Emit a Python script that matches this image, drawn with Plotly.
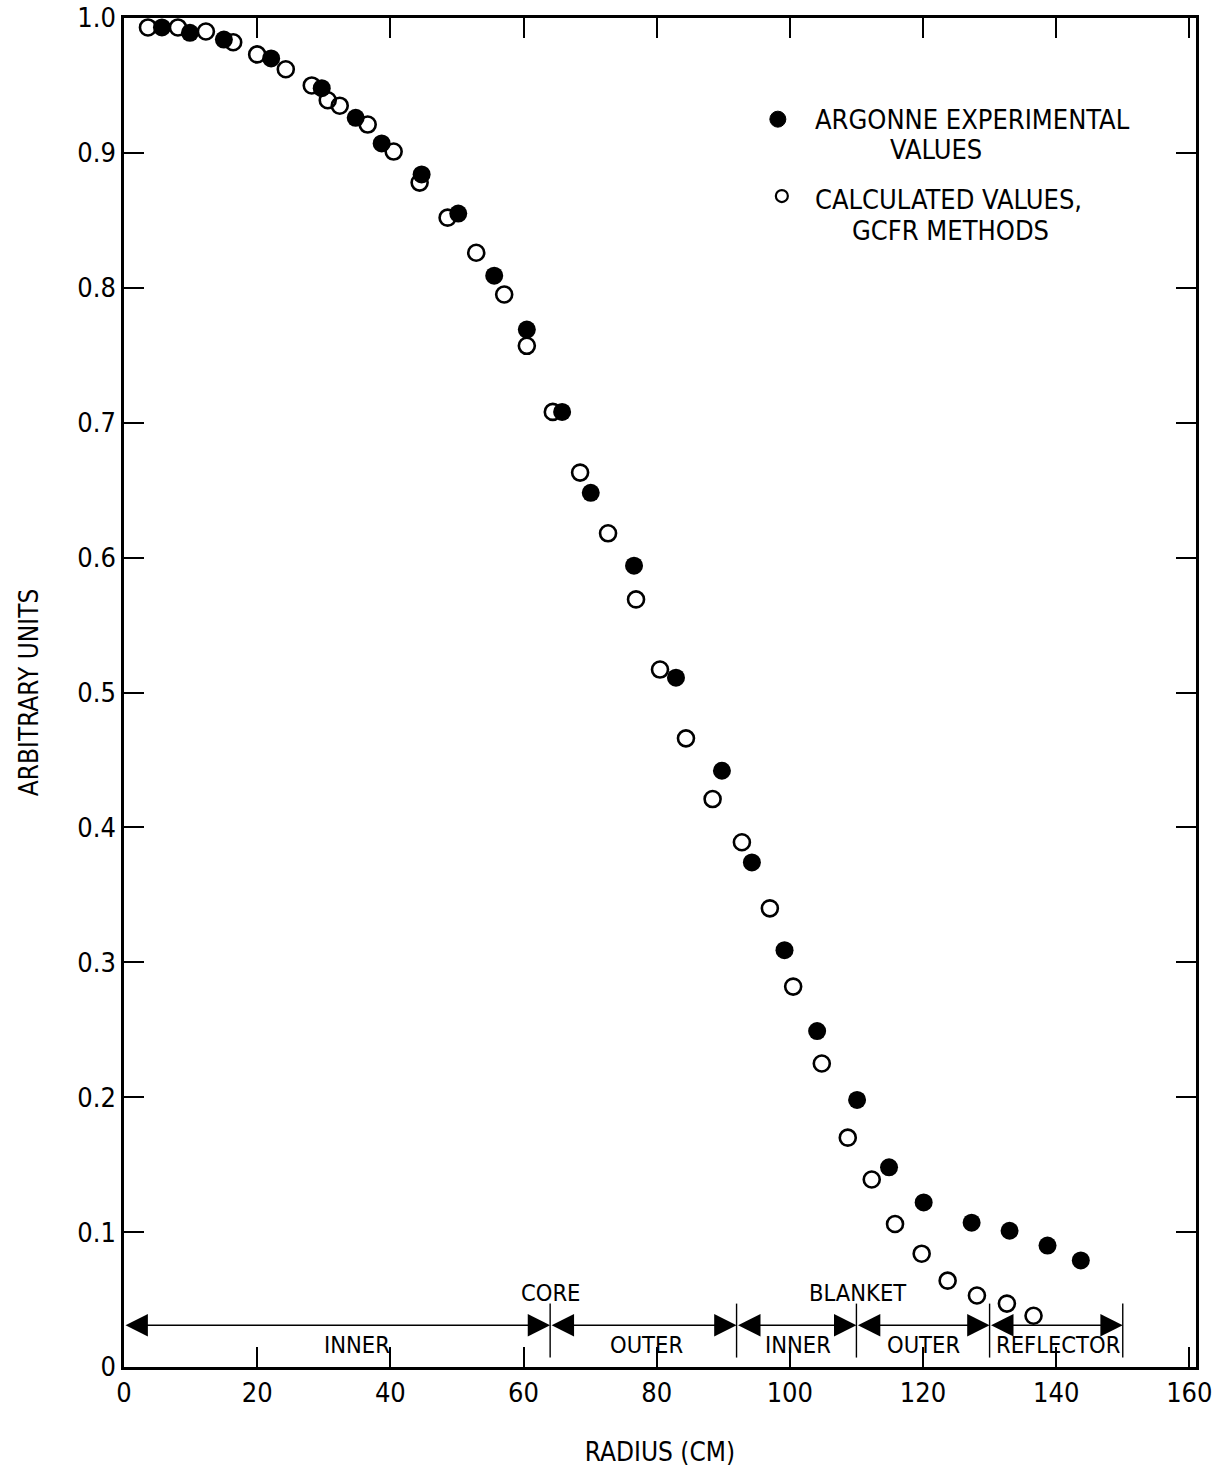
import plotly.graph_objects as go

# Experimental (filled) values
exp_r = [5.7, 9.9, 15.0, 22.1, 29.7, 34.8, 38.7, 44.7, 50.2, 55.6, 60.5, 65.8, 70.1,
         76.6, 82.9, 89.8, 94.3, 99.2, 104.1, 110.1, 114.9, 120.1, 127.3, 133.0, 138.7, 143.7]
exp_v = [0.993, 0.989, 0.984, 0.970, 0.948, 0.926, 0.907, 0.884, 0.855, 0.809, 0.769, 0.708, 0.648,
         0.594, 0.511, 0.442, 0.374, 0.309, 0.249, 0.198, 0.148, 0.122, 0.107, 0.101, 0.090, 0.079]

# Calculated (open) values
calc_r = [3.6, 8.1, 12.3, 16.4, 20.0, 24.3, 28.2, 30.6, 32.4, 36.6, 40.5, 44.4, 48.6, 52.9, 57.1,
          60.5, 64.4, 68.5, 72.7, 76.9, 80.5, 84.4, 88.4, 92.8, 97.0, 100.5, 104.8, 108.7, 112.3,
          115.8, 119.8, 123.7, 128.1, 132.6, 136.6]
calc_v = [0.993, 0.993, 0.990, 0.982, 0.973, 0.962, 0.950, 0.939, 0.935, 0.921, 0.901, 0.878, 0.852,
          0.826, 0.795, 0.757, 0.708, 0.663, 0.618, 0.569, 0.517, 0.466, 0.421, 0.389, 0.340, 0.282,
          0.225, 0.170, 0.139, 0.106, 0.084, 0.064, 0.053, 0.047, 0.038]

# Region boundaries and labels
bounds = [0, 64, 92, 110, 130, 150]
region_labels = ["INNER", "OUTER", "INNER", "OUTER", "REFLECTOR"]
region_label_x = [35.0, 78.5, 101.2, 120.0, 140.4]
group_labels = [("CORE", 64.1), ("BLANKET", 110.2)]

# Legend text lines (text, left x, y)
legend_lines = [("ARGONNE EXPERIMENTAL", 103.5, 0.9244), ("VALUES", 114.7, 0.9022),
                ("CALCULATED VALUES,", 103.5, 0.8658), ("GCFR METHODS", 109.0, 0.8428)]

x_ticks = [0, 20, 40, 60, 80, 100, 120, 140, 160]
y_ticks = [0, 0.1, 0.2, 0.3, 0.4, 0.5, 0.6, 0.7, 0.8, 0.9, 1.0]
y_ticktext = ["0", "0.1", "0.2", "0.3", "0.4", "0.5", "0.6", "0.7", "0.8", "0.9", "1.0"]

FONT = "Liberation Sans Narrow, DejaVu Sans Condensed, Roboto, sans-serif"

fig = go.Figure()
fig.add_trace(go.Scatter(x=calc_r, y=calc_v, mode="markers",
                         marker=dict(symbol="circle-open", size=16, color="black",
                                     line=dict(width=2.6, color="black")),
                         showlegend=False, cliponaxis=False))
fig.add_trace(go.Scatter(x=exp_r, y=exp_v, mode="markers",
                         marker=dict(symbol="circle", size=18, color="black"),
                         showlegend=False, cliponaxis=False))

arrow_y = 0.031
shapes = []
annotations = []
for i in range(len(bounds) - 1):
    annotations.append(dict(x=bounds[i + 1], y=arrow_y, ax=bounds[i], ay=arrow_y,
                            xref="x", yref="y", axref="x", ayref="y", text="",
                            showarrow=True, arrowhead=2, arrowside="end+start",
                            arrowsize=3.2, arrowwidth=1.4, arrowcolor="black"))
    annotations.append(dict(x=region_label_x[i], y=0.016, xref="x", yref="y",
                            text=region_labels[i], showarrow=False,
                            font=dict(family=FONT, size=23.5, color="black")))
for b in bounds[1:]:
    shapes.append(dict(type="line", xref="x", yref="y", x0=b, x1=b, y0=0.007, y1=0.047,
                       line=dict(color="black", width=1.4)))
for txt, xb in group_labels:
    annotations.append(dict(x=xb, y=0.055, xref="x", yref="y", text=txt, showarrow=False,
                            font=dict(family=FONT, size=23.5, color="black")))

# Legend (manual)
shapes.append(dict(type="circle", xref="x", yref="y", xsizemode="pixel", ysizemode="pixel",
                   xanchor=98.2, yanchor=0.925, x0=-8, x1=8, y0=-8, y1=8,
                   fillcolor="black", line=dict(color="black", width=1)))
shapes.append(dict(type="circle", xref="x", yref="y", xsizemode="pixel", ysizemode="pixel",
                   xanchor=98.8, yanchor=0.868, x0=-6, x1=6, y0=-6, y1=6,
                   fillcolor="white", line=dict(color="black", width=2.2)))
for txt, lx, ly in legend_lines:
    annotations.append(dict(x=lx, y=ly, xref="x", yref="y", xanchor="left", yanchor="middle",
                            align="left", showarrow=False, text=txt,
                            font=dict(family=FONT, size=27, color="black")))

fig.update_layout(
    width=1228, height=1472,
    margin=dict(l=124, r=32, t=18, b=105, autoexpand=False),
    paper_bgcolor="white", plot_bgcolor="white",
    font=dict(family=FONT, size=27, color="black"),
    shapes=shapes, annotations=annotations,
    showlegend=False,
)
fig.update_xaxes(range=[0, 161], tickvals=x_ticks, ticks="inside", ticklen=20, tickwidth=2,
                 tickcolor="black", showline=True, linecolor="black", linewidth=2.5,
                 mirror="ticks", showgrid=False, zeroline=False, automargin=False,
                 title=dict(text="RADIUS (CM)", standoff=36, font=dict(size=26)),
                 tickfont=dict(size=27))
fig.update_yaxes(range=[0, 1.0], tickvals=y_ticks, ticktext=y_ticktext, ticks="inside",
                 ticklen=20, tickwidth=2, tickcolor="black", showline=True, linecolor="black",
                 linewidth=2.5, mirror="ticks", showgrid=False, zeroline=False, automargin=False,
                 title=dict(text="ARBITRARY UNITS", standoff=32, font=dict(size=26)),
                 tickfont=dict(size=27))

fig.write_html("out.html")
